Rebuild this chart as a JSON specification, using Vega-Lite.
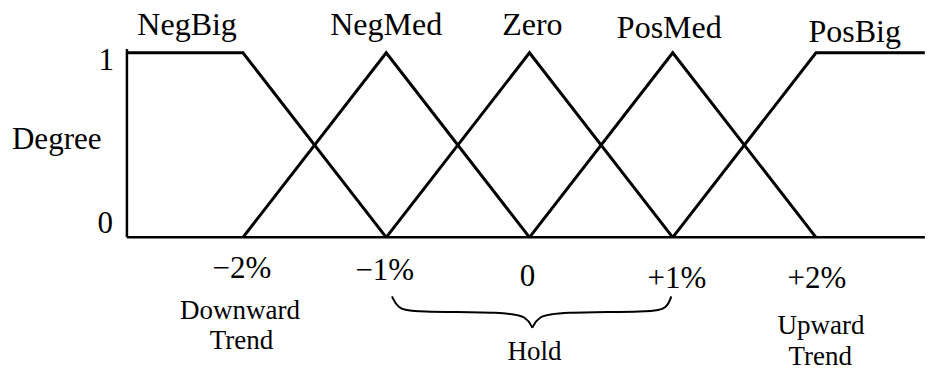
{
  "$schema": "https://vega.github.io/schema/vega-lite/v6.json",
  "width": 931,
  "height": 371,
  "autosize": {"type": "fit", "contains": "padding"},
  "padding": 0,
  "background": "white",
  "config": {"view": {"stroke": null}},
  "datasets": {
    "mf": [
      {"set": "NegBig", "x": -2.81, "y": 1}, {"set": "NegBig", "x": -2, "y": 1}, {"set": "NegBig", "x": -1, "y": 0},
      {"set": "NegMed", "x": -2, "y": 0}, {"set": "NegMed", "x": -1, "y": 1}, {"set": "NegMed", "x": 0, "y": 0},
      {"set": "Zero", "x": -1, "y": 0}, {"set": "Zero", "x": 0, "y": 1}, {"set": "Zero", "x": 1, "y": 0},
      {"set": "PosMed", "x": 0, "y": 0}, {"set": "PosMed", "x": 1, "y": 1}, {"set": "PosMed", "x": 2, "y": 0},
      {"set": "PosBig", "x": 1, "y": 0}, {"set": "PosBig", "x": 2, "y": 1}, {"set": "PosBig", "x": 2.76, "y": 1}
    ],
    "axes": [
      {"part": "v", "x": -2.81, "y": 1.02}, {"part": "v", "x": -2.81, "y": 0},
      {"part": "h", "x": -2.81, "y": 0}, {"part": "h", "x": 2.76, "y": 0}
    ],
    "brace": [
      {"part": "L", "x": -0.96, "y": -0.32}, {"part": "L", "x": -0.92, "y": -0.385}, {"part": "L", "x": -0.82, "y": -0.405},
      {"part": "L", "x": -0.15, "y": -0.405}, {"part": "L", "x": -0.02, "y": -0.43}, {"part": "L", "x": 0.02, "y": -0.49},
      {"part": "R", "x": 0.02, "y": -0.49}, {"part": "R", "x": 0.06, "y": -0.43}, {"part": "R", "x": 0.19, "y": -0.405},
      {"part": "R", "x": 0.86, "y": -0.405}, {"part": "R", "x": 0.96, "y": -0.385}, {"part": "R", "x": 0.99, "y": -0.32}
    ],
    "top": [
      {"label": "NegBig", "x": -2.39, "y": 1.151},
      {"label": "NegMed", "x": -1.0, "y": 1.151},
      {"label": "Zero", "x": 0.02, "y": 1.151},
      {"label": "PosMed", "x": 0.976, "y": 1.135},
      {"label": "PosBig", "x": 2.27, "y": 1.11}
    ],
    "ticks": [
      {"label": "Degree", "x": -3.30, "y": 0.53},
      {"label": "1", "x": -2.955, "y": 0.957},
      {"label": "0", "x": -2.962, "y": 0.07},
      {"label": "−2%", "x": -2.007, "y": -0.173},
      {"label": "−1%", "x": -1.01, "y": -0.184},
      {"label": "0", "x": -0.014, "y": -0.216},
      {"label": "+1%", "x": 1.03, "y": -0.227},
      {"label": "+2%", "x": 2.007, "y": -0.227}
    ],
    "notes": [
      {"label": "Downward", "x": -2.02, "y": -0.40},
      {"label": "Trend", "x": -2.01, "y": -0.562},
      {"label": "Hold", "x": 0.035, "y": -0.622},
      {"label": "Upward", "x": 2.035, "y": -0.481},
      {"label": "Trend", "x": 2.03, "y": -0.649}
    ]
  },
  "encoding": {
    "x": {"field": "x", "type": "quantitative", "scale": {"domain": [-3.696, 2.747], "nice": false, "zero": false}, "axis": null},
    "y": {"field": "y", "type": "quantitative", "scale": {"domain": [-0.719, 1.286], "nice": false, "zero": false}, "axis": null}
  },
  "layer": [
    {
      "data": {"name": "axes"},
      "mark": {"type": "line", "color": "black", "strokeWidth": 2.5, "clip": false},
      "encoding": {"detail": {"field": "part"}}
    },
    {
      "data": {"name": "mf"},
      "mark": {"type": "line", "color": "black", "strokeWidth": 3, "strokeJoin": "miter"},
      "encoding": {"detail": {"field": "set"}}
    },
    {
      "data": {"name": "brace"},
      "mark": {"type": "line", "color": "black", "strokeWidth": 2, "interpolate": "basis"},
      "encoding": {"detail": {"field": "part"}}
    },
    {
      "data": {"name": "top"},
      "mark": {"type": "text", "font": "Liberation Serif", "fontSize": 32, "color": "black", "baseline": "middle", "align": "center"},
      "encoding": {"text": {"field": "label"}}
    },
    {
      "data": {"name": "ticks"},
      "mark": {"type": "text", "font": "Liberation Serif", "fontSize": 31, "color": "black", "baseline": "middle", "align": "center"},
      "encoding": {"text": {"field": "label"}}
    },
    {
      "data": {"name": "notes"},
      "mark": {"type": "text", "font": "Liberation Serif", "fontSize": 27, "color": "black", "baseline": "middle", "align": "center"},
      "encoding": {"text": {"field": "label"}}
    }
  ]
}
